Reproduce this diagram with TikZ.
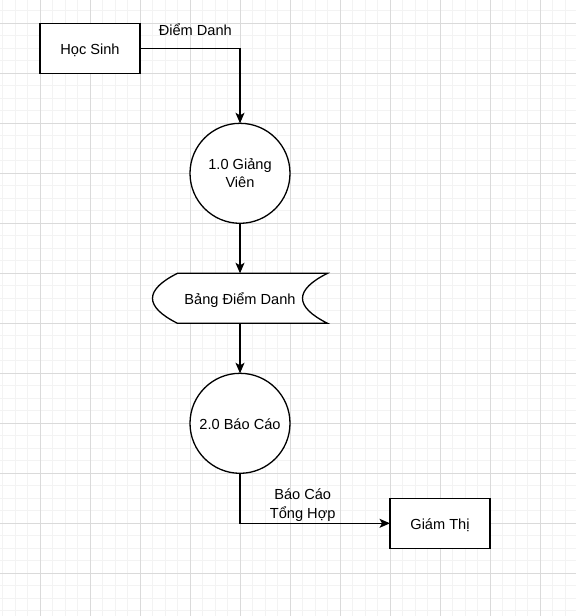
\documentclass[tikz,border=0pt]{standalone}
\usepackage{fontspec}
\setmainfont{Liberation Sans}
\usetikzlibrary{arrows.meta}
\definecolor{gridminor}{HTML}{F3F3F3}
\definecolor{gridmajor}{HTML}{DADADA}
\begin{document}
\begin{tikzpicture}[x=1pt,y=-1pt,
  every node/.style={font=\fontsize{14.6}{18.4}\selectfont, inner sep=0pt, outer sep=0pt},
  box/.style={draw=black, fill=white, line width=1.3pt, minimum width=100pt, minimum height=50pt, text height=11.4pt, text depth=0pt},
  proc/.style={draw=black, fill=white, line width=1.3pt, circle, minimum size=100pt},
  arr/.style={draw=black, line width=1.3pt, -{Stealth[length=10.5pt, width=9pt, inset=2.5pt]}},
  lbl/.style={align=center, anchor=base}
]
\useasboundingbox (0,0) rectangle (576,616);
\fill[white] (0,0) rectangle (576,616);
% grid
\foreach \i in {0,...,46} {\draw[gridminor, line width=1pt] (2.5+12.5*\i,0) -- (2.5+12.5*\i,616);}
\foreach \i in {0,...,49} {\draw[gridminor, line width=1pt] (0,10.83+12.5*\i) -- (576,10.83+12.5*\i);}
\foreach \i in {0,...,10} {\draw[gridmajor, line width=1pt] (40+50*\i,0) -- (40+50*\i,616);}
\foreach \i in {0,...,11} {\draw[gridmajor, line width=1pt] (0,23.33+50*\i) -- (576,23.33+50*\i);}

% nodes
\node[box] (hs) at (90,48.3) {Học Sinh};
\node[proc, text height=28.8pt, text depth=0pt, align=center] (g1) at (240,173.3) {1.0 Giảng\\Viên};
\node[minimum width=175pt, minimum height=50pt] (bd) at (240,298.3) {};
\draw[fill=white, line width=1.3pt, shift={(bd.center)}]
  (-62.5,-25) -- (87.5,-25) .. controls (54.17,-8.33) and (54.17,8.33) .. (87.5,25)
  -- (-62.5,25) .. controls (-95.83,8.33) and (-95.83,-8.33) .. (-62.5,-25) -- cycle;
\node[text height=11.4pt, text depth=0pt] (bdt) at (bd.center) {Bảng Điểm Danh};
\node[proc, text height=11.4pt, text depth=0pt] (g2) at (240,423.3) {2.0 Báo Cáo};
\node[box] (gt) at (440,523.3) {Giám Thị};

% connectors
\draw[arr] (hs.east) -| (g1.north);
\draw[arr] (g1.south) -- (bd.north);
\draw[arr] (bd.south) -- (g2.north);
\draw[arr] (g2.south) |- (gt.west);

% labels
\node[lbl] (l1) at (195.3,35) {Điểm Danh};
\node[lbl] (l2) at (302.7,518.3) {Báo Cáo\\Tổng Hợp};
\end{tikzpicture}
\end{document}
